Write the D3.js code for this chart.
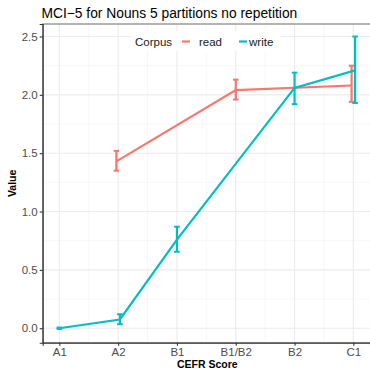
<!DOCTYPE html>
<html>
<head>
<meta charset="utf-8">
<script src="https://cdnjs.cloudflare.com/ajax/libs/d3/7.8.5/d3.min.js"></script>
<style>
  body { margin: 0; background: #fff; }
  text { font-family: "Liberation Sans", Arial, sans-serif; }
</style>
</head>
<body>
<script>
// chart data
var categories = ["A1", "A2", "B1", "B1/B2", "B2", "C1"];
var yTicks = [0, 0.5, 1.0, 1.5, 2.0, 2.5];

var readCats = ["A2", "B1/B2", "C1"];
var readVals = [1.43, 2.04, 2.08];
var readLo   = [1.35, 1.96, 1.94];
var readHi   = [1.52, 2.13, 2.25];

var writeCats = ["A1", "A2", "B1", "B2", "C1"];
var writeVals = [0.0, 0.075, 0.76, 2.06, 2.21];
var writeLo   = [-0.006, 0.035, 0.655, 1.92, 1.93];
var writeHi   = [0.006, 0.12, 0.87, 2.19, 2.5];

var W = 370, H = 369;
var panel = { left: 42.7, right: 370, top: 24, bottom: 342.7 };

var svg = d3.select("body")
    .append("svg")
    .attr("width", W)
    .attr("height", H);

//scales
var x = d3.scalePoint()
    .domain(categories)
    .range([panel.left, panel.right])
    .padding(0.283);

var y = d3.scaleLinear()
    .domain([-0.124, 2.607])
    .range([panel.bottom, panel.top]);

var step = x.step();

//gridlines, minor first
var grid = svg.append("g");
var minorY = d3.range(0.25, 2.6, 0.5);
grid.selectAll(".minY").data(minorY).enter().append("line")
    .attr("x1", panel.left).attr("x2", panel.right)
    .attr("y1", function(d) { return y(d); })
    .attr("y2", function(d) { return y(d); })
    .style("stroke", "#f2f2f2").style("stroke-width", 0.6);
grid.selectAll(".minX").data(categories.slice(1)).enter().append("line")
    .attr("x1", function(d) { return x(d) - step / 2; })
    .attr("x2", function(d) { return x(d) - step / 2; })
    .attr("y1", panel.top).attr("y2", panel.bottom)
    .style("stroke", "#f2f2f2").style("stroke-width", 0.6);
grid.selectAll(".majY").data(yTicks).enter().append("line")
    .attr("x1", panel.left).attr("x2", panel.right)
    .attr("y1", function(d) { return y(d); })
    .attr("y2", function(d) { return y(d); })
    .style("stroke", "#ebebeb").style("stroke-width", 1.1);
grid.selectAll(".majX").data(categories).enter().append("line")
    .attr("x1", function(d) { return x(d); })
    .attr("x2", function(d) { return x(d); })
    .attr("y1", panel.top).attr("y2", panel.bottom)
    .style("stroke", "#ebebeb").style("stroke-width", 1.1);

//panel border
svg.append("rect")
    .attr("x", panel.left).attr("y", panel.top)
    .attr("width", panel.right - panel.left + 2)
    .attr("height", panel.bottom - panel.top)
    .style("fill", "none")
    .style("stroke", "#777").style("stroke-width", 1.1);

//axes
var yAxis = svg.append("g")
    .attr("transform", "translate(" + panel.left + ",0)")
    .call(d3.axisLeft(y).tickValues(yTicks).tickFormat(d3.format(".1f")).tickSize(3).tickPadding(2));
var xAxis = svg.append("g")
    .attr("transform", "translate(0," + panel.bottom + ")")
    .call(d3.axisBottom(x).tickSize(3).tickPadding(2));
[yAxis, xAxis].forEach(function(a) {
    a.select(".domain").style("stroke", "#333").style("stroke-width", 1.1);
    a.selectAll(".tick line").style("stroke", "#333").style("stroke-width", 1.1);
    a.selectAll(".tick text")
        .style("font-size", "11.5px")
        .style("fill", "#4d4d4d")
        .style("font-family", "Liberation Sans, Arial, sans-serif");
});

//series with dodge where both groups share a category
var dodge = step * 0.03;
function build(cats, vals, lo, hi, other, sign) {
    return cats.map(function(c, i) {
        var off = other.indexOf(c) >= 0 ? sign * dodge : 0;
        return { px: x(c) + off, v: vals[i], lo: lo[i], hi: hi[i] };
    });
}
var series = [
    { name: "read", color: "#F8766D", pts: build(readCats, readVals, readLo, readHi, writeCats, -1) },
    { name: "write", color: "#00BFC4", pts: build(writeCats, writeVals, writeLo, writeHi, readCats, 1) }
];

var line = d3.line()
    .x(function(d) { return d.px; })
    .y(function(d) { return y(d.v); });

series.forEach(function(s) {
    var g = svg.append("g");
    g.append("path")
        .datum(s.pts)
        .attr("d", line)
        .style("fill", "none")
        .style("stroke", s.color)
        .style("stroke-width", 2.2);
    var cap = 2.8;
    var eb = g.selectAll(".eb").data(s.pts).enter().append("g");
    eb.append("line")
        .attr("x1", function(d) { return d.px; }).attr("x2", function(d) { return d.px; })
        .attr("y1", function(d) { return y(d.lo); }).attr("y2", function(d) { return y(d.hi); })
        .style("stroke", s.color).style("stroke-width", 2.2);
    eb.append("line")
        .attr("x1", function(d) { return d.px - cap; }).attr("x2", function(d) { return d.px + cap; })
        .attr("y1", function(d) { return y(d.lo); }).attr("y2", function(d) { return y(d.lo); })
        .style("stroke", s.color).style("stroke-width", 2);
    eb.append("line")
        .attr("x1", function(d) { return d.px - cap; }).attr("x2", function(d) { return d.px + cap; })
        .attr("y1", function(d) { return y(d.hi); }).attr("y2", function(d) { return y(d.hi); })
        .style("stroke", s.color).style("stroke-width", 2);
});

//legend
var legend = svg.append("g").attr("transform", "translate(131,31)");
legend.append("rect")
    .attr("width", 150).attr("height", 20)
    .style("fill", "#fff");
legend.append("text")
    .attr("x", 4).attr("y", 14.5)
    .text("Corpus")
    .style("font-size", "11.5px").style("fill", "#1a1a1a");
var keys = [{ k: 51, t: 68 }, { k: 108, t: 118 }];
series.forEach(function(s, i) {
    legend.append("line")
        .attr("x1", keys[i].k).attr("x2", keys[i].k + 8)
        .attr("y1", 10.5).attr("y2", 10.5)
        .style("stroke", s.color).style("stroke-width", 2.2);
    legend.append("text")
        .attr("x", keys[i].t).attr("y", 14.5)
        .text(s.name)
        .style("font-size", "11.5px").style("fill", "#1a1a1a");
});

//title and axis titles
svg.append("text")
    .attr("x", 41.5).attr("y", 17.5)
    .text("MCI\u22125 for Nouns 5 partitions no repetition")
    .style("font-size", "13.8px").style("fill", "#000");

svg.append("text")
    .attr("x", (panel.left + panel.right) / 2 + 1).attr("y", 367.5)
    .attr("text-anchor", "middle")
    .text("CEFR Score")
    .style("font-size", "10.5px").style("font-weight", "bold");

svg.append("text")
    .attr("transform", "translate(15.5," + ((panel.top + panel.bottom) / 2) + ") rotate(-90)")
    .attr("text-anchor", "middle")
    .text("Value")
    .style("font-size", "10.5px").style("font-weight", "bold");
</script>
</body>
</html>
